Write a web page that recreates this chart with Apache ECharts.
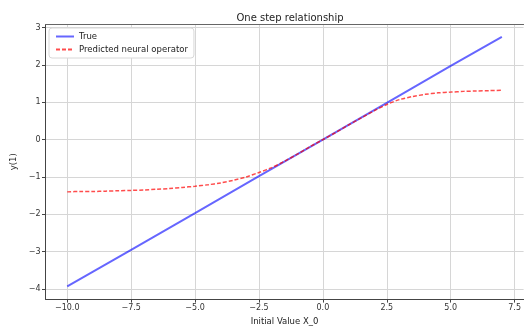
<!DOCTYPE html>
<html>
<head>
<meta charset="utf-8">
<script src="https://cdn.jsdelivr.net/npm/echarts@6/dist/echarts.min.js"></script>
<style>
  html, body { margin: 0; padding: 0; background: #fff; }
  #chart { width: 524px; height: 331px; }
</style>
</head>
<body>
<div id="chart"></div>
<script>
// initial value X_0
const xTrue = [-10, -7.5, -5, -2.5, 0, 2.5, 5, 7]
const yTrue = [-3.93, -2.95, -1.97, -0.98, 0.0, 0.98, 1.97, 2.75]

const xPred = [-10, -9.5, -9, -8.5, -8, -7.5, -7, -6.5, -6, -5.5, -5, -4.5, -4, -3.5, -3, -2.5, -2, -1.5, -1, -0.5,
  0, 0.5, 1, 1.5, 2, 2.5, 3, 3.5, 4, 4.5, 5, 5.5, 6, 6.5, 7]
const yPred = [-1.40, -1.39, -1.39, -1.38, -1.37, -1.36, -1.35, -1.33, -1.31, -1.28, -1.25, -1.21, -1.16, -1.09, -1.00, -0.88, -0.75, -0.58, -0.39, -0.19,
  0.0, 0.19, 0.39, 0.58, 0.77, 0.94, 1.07, 1.15, 1.21, 1.25, 1.27, 1.29, 1.30, 1.31, 1.32]

const xTicks = [-10, -7.5, -5, -2.5, 0, 2.5, 5, 7.5]
const yTicks = [-4, -3, -2, -1, 0, 1, 2, 3]

const font = 'DejaVu Sans'
const fmt = (v, d) => v.toFixed(d).replace('-', '\u2212')

const chart = echarts.init(document.getElementById('chart'))

chart.setOption({
  animation: false,
  backgroundColor: '#fff',
  title: {
    text: 'One step relationship',
    left: 285,
    top: 8,
    textAlign: 'center',
    textStyle: { fontFamily: font, fontSize: 10, fontWeight: 'normal', color: '#222' }
  },
  legend: {
    orient: 'vertical',
    left: 49,
    top: 28,
    padding: [4, 6, 4, 6],
    itemGap: 4,
    itemWidth: 18,
    itemHeight: 8,
    backgroundColor: '#fff',
    borderColor: '#d8d8d8',
    borderWidth: 1,
    borderRadius: 3,
    itemStyle: { opacity: 0 },
    textStyle: { fontFamily: font, fontSize: 8.5, color: '#222' },
    data: ['True', 'Predicted neural operator']
  },
  grid: { left: 45.5, right: 0, top: 24.5, bottom: 28.5 },
  xAxis: [
    {
      type: 'value',
      min: -10.85,
      max: 7.85,
      name: 'Initial Value X_0',
      nameLocation: 'middle',
      nameGap: 17,
      nameTextStyle: { fontFamily: font, fontSize: 8.5, color: '#222' },
      axisLine: { onZero: false, lineStyle: { color: '#444', width: 1 } },
      axisTick: { show: true, length: 3.5, customValues: xTicks, lineStyle: { color: '#444' } },
      axisLabel: {
        customValues: xTicks,
        fontFamily: font, fontSize: 8, color: '#333', margin: 5,
        formatter: v => fmt(v, 1)
      },
      splitLine: { show: true, customValues: xTicks, lineStyle: { color: '#d6d6d6', width: 1 } }
    },
    {
      // top spine only
      type: 'value',
      position: 'top',
      min: -10.85,
      max: 7.85,
      axisLine: { show: true, onZero: false, lineStyle: { color: '#666', width: 1 } },
      axisTick: { show: false },
      axisLabel: { show: false },
      splitLine: { show: false }
    }
  ],
  yAxis: {
    type: 'value',
    min: -4.27,
    max: 3.08,
    name: 'y(1)',
    nameLocation: 'middle',
    nameGap: 21,
    nameTextStyle: { fontFamily: font, fontSize: 8.5, color: '#222' },
    axisLine: { show: true, onZero: false, lineStyle: { color: '#444', width: 1 } },
    axisTick: { show: true, length: 3.5, customValues: yTicks, lineStyle: { color: '#444' } },
    axisLabel: {
      customValues: yTicks,
      fontFamily: font, fontSize: 8, color: '#333', margin: 5,
      formatter: v => fmt(v, 0)
    },
    splitLine: { show: true, customValues: yTicks, lineStyle: { color: '#d6d6d6', width: 1 } }
  },
  series: [
    {
      name: 'True',
      type: 'line',
      data: xTrue.map((x, i) => [x, yTrue[i]]),
      symbol: 'none',
      itemStyle: { color: 'rgba(0,0,255,0.6)' },
      lineStyle: { color: 'rgba(0,0,255,0.6)', width: 2 },
      z: 2
    },
    {
      name: 'Predicted neural operator',
      type: 'line',
      data: xPred.map((x, i) => [x, yPred[i]]),
      symbol: 'none',
      smooth: 0.3,
      itemStyle: { color: 'rgba(255,0,0,0.7)' },
      lineStyle: { color: 'rgba(255,0,0,0.7)', width: 1.5, type: [4, 2] },
      z: 3
    }
  ]
})
</script>
</body>
</html>
